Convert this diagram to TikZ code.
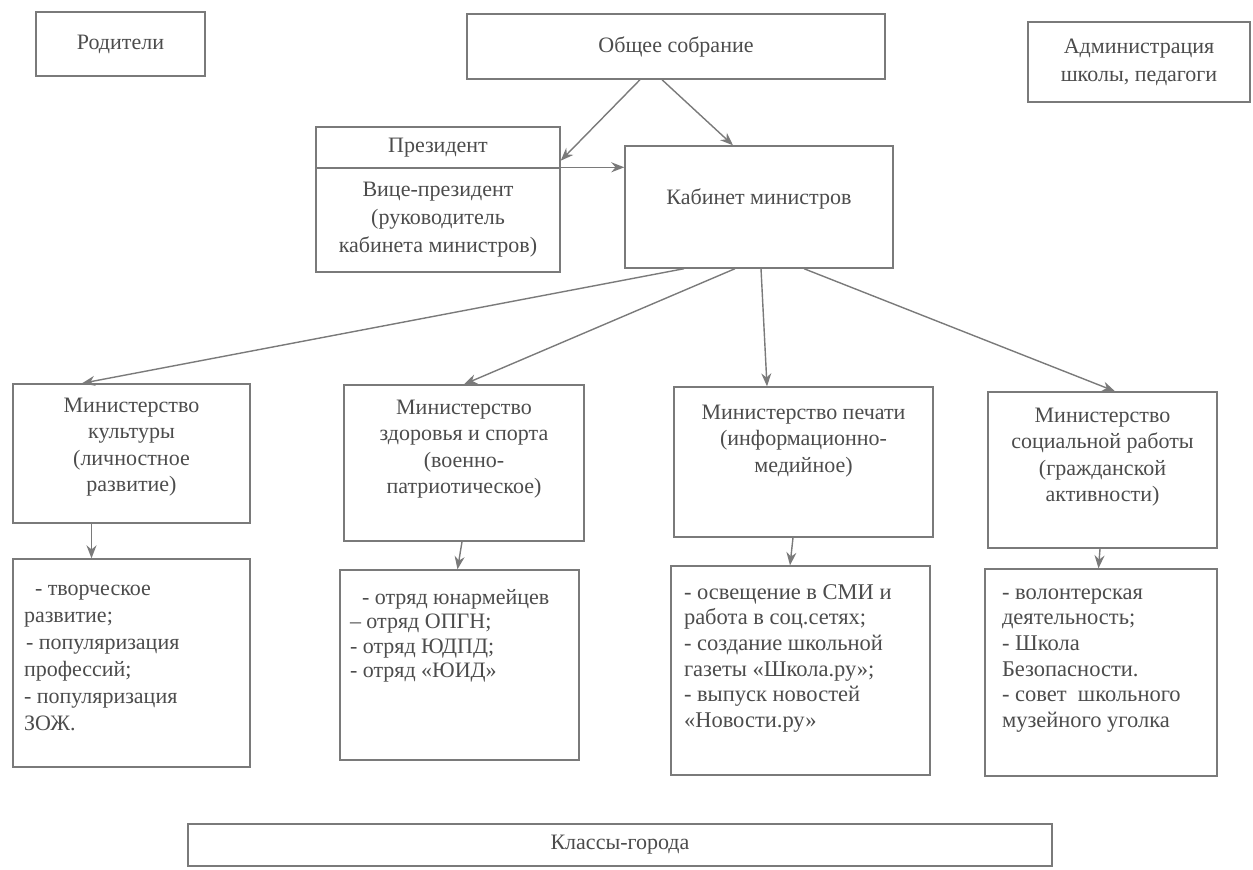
\documentclass[tikz,border=0pt]{standalone}
\usepackage{fontspec}
\setmainfont{Liberation Serif}
\usetikzlibrary{arrows.meta}
\definecolor{lncol}{gray}{0.48}
\definecolor{txcol}{gray}{0.3}
\newcommand\bx[5]{\begin{minipage}[c][#2][t]{#1}\vspace*{#3}#4\rule{0pt}{16pt}#5\end{minipage}}
\newcommand\cbx[3]{\begin{minipage}[c][#2][c]{#1}\centering#3\end{minipage}}
\newcommand\hf{\fontsize{22}{28}\selectfont}
\newcommand\mf{\fontsize{22}{26.5}\selectfont}
\tikzset{
  bx/.style={draw=lncol, line width=1.4pt, inner sep=0pt, text=txcol},
  ln/.style={draw=lncol, line width=1.4pt},
  arr/.style={ln, -{Stealth[length=13pt,width=10pt]}}
}
\begin{document}
\begin{tikzpicture}[x=1pt,y=-1pt]
\useasboundingbox (0,0) rectangle (1253,870);
% top row
\node[bx] (par) at (120.5,44) {\cbx{169pt}{64pt}{\hf Родители}};
\node[bx] (gen) at (676,46.5) {\cbx{418pt}{65pt}{\hf Общее собрание}};
\node[bx] (adm) at (1139,62) {\cbx{222pt}{80pt}{\hf Администрация\\школы, педагоги}};
% president
\node[bx] (presTop) at (438,147.5) {\cbx{244pt}{41pt}{\hf Президент}};
\node[bx] (presBot) at (438,220) {\cbx{244pt}{104pt}{\hf Вице-президент\\(руководитель\\кабинета министров)}};
\node[bx] (kab) at (759,207) {\bx{268pt}{122pt}{42pt}{\centering\hf}{Кабинет министров}};
% ministries
\node[bx] (m1) at (131.5,453.5) {\bx{237pt}{139pt}{12pt}{\centering\mf}{Министерство\\культуры\\(личностное\\развитие)}};
\node[bx] (m2) at (464,463) {\bx{240pt}{156pt}{13pt}{\centering\mf}{Министерство\\здоровья и спорта\\(военно-\\патриотическое)}};
\node[bx] (m3) at (803.5,462) {\bx{259pt}{150pt}{16pt}{\centering\mf}{Министерство печати\\(информационно-\\медийное)}};
\node[bx] (m4) at (1102.5,470) {\bx{229pt}{156pt}{14pt}{\centering\mf}{Министерство\\социальной работы\\(гражданской\\активности)}};
% lists
\node[bx] (l1) at (131.5,663) {\bx{237pt}{208pt}{20pt}{\raggedright\fontsize{22}{27}\selectfont}{\hspace*{22pt}- творческое\\\hspace*{11pt}развитие;\\\hspace*{13pt}- популяризация\\\hspace*{11pt}профессий;\\\hspace*{11pt}- популяризация\\\hspace*{11pt}ЗОЖ.}};
\node[bx] (l2) at (459.5,665) {\bx{239pt}{190pt}{18pt}{\raggedright\fontsize{22}{24.5}\selectfont}{\hspace*{22pt}- отряд юнармейцев\\\hspace*{10pt}-- отряд ОПГН;\\\hspace*{10pt}- отряд ЮДПД;\\\hspace*{10pt}- отряд «ЮИД»}};
\node[bx] (l3) at (800.5,670.5) {\bx{259pt}{209pt}{17pt}{\raggedright\fontsize{22.5}{25.7}\selectfont}{\hspace*{13pt}- освещение в СМИ и\\\hspace*{13pt}работа в соц.сетях;\\\hspace*{13pt}- создание школьной\\\hspace*{13pt}газеты «Школа.ру»;\\\hspace*{13pt}- выпуск новостей\\\hspace*{13pt}«Новости.ру»}};
\node[bx] (l4) at (1101,672.5) {\bx{232pt}{207pt}{14pt}{\raggedright\fontsize{22.5}{25.7}\selectfont}{\hspace*{17pt}- волонтерская\\\hspace*{17pt}деятельность;\\\hspace*{17pt}- Школа\\\hspace*{17pt}Безопасности.\\\hspace*{17pt}- совет~ школьного\\\hspace*{17pt}музейного уголка}};
% bottom
\node[bx] (cls) at (620,845) {\cbx{864pt}{42pt}{\hf Классы-города}};
% connectors
\draw[arr] ([xshift=-36pt]gen.south) -- ([yshift=8pt]presTop.south east);
\draw[arr] ([xshift=-14pt]gen.south) -- ([xshift=-26pt]kab.north);
\draw[arr] (presBot.north east) -- (presBot.north east -| kab.west);
\draw[arr] ([xshift=-75pt]kab.south) -- ([xshift=-49.5pt]m1.north);
\draw[arr] ([xshift=-24pt]kab.south) -- (m2.north);
\draw[arr] ([xshift=2pt]kab.south) -- ([xshift=-36.5pt]m3.north);
\draw[arr] ([xshift=45pt]kab.south) -- ([xshift=12.5pt]m4.north);
\draw[arr] ([xshift=-40pt]m1.south) -- ([xshift=-40pt]l1.north);
\draw[arr] ([xshift=-2pt]m2.south) -- ([xshift=-2pt]l2.north);
\draw[arr] ([xshift=-10.5pt]m3.south) -- ([xshift=-10.5pt]l3.north);
\draw[arr] ([xshift=-2.5pt]m4.south) -- ([xshift=-2.5pt]l4.north);
\end{tikzpicture}
\end{document}
